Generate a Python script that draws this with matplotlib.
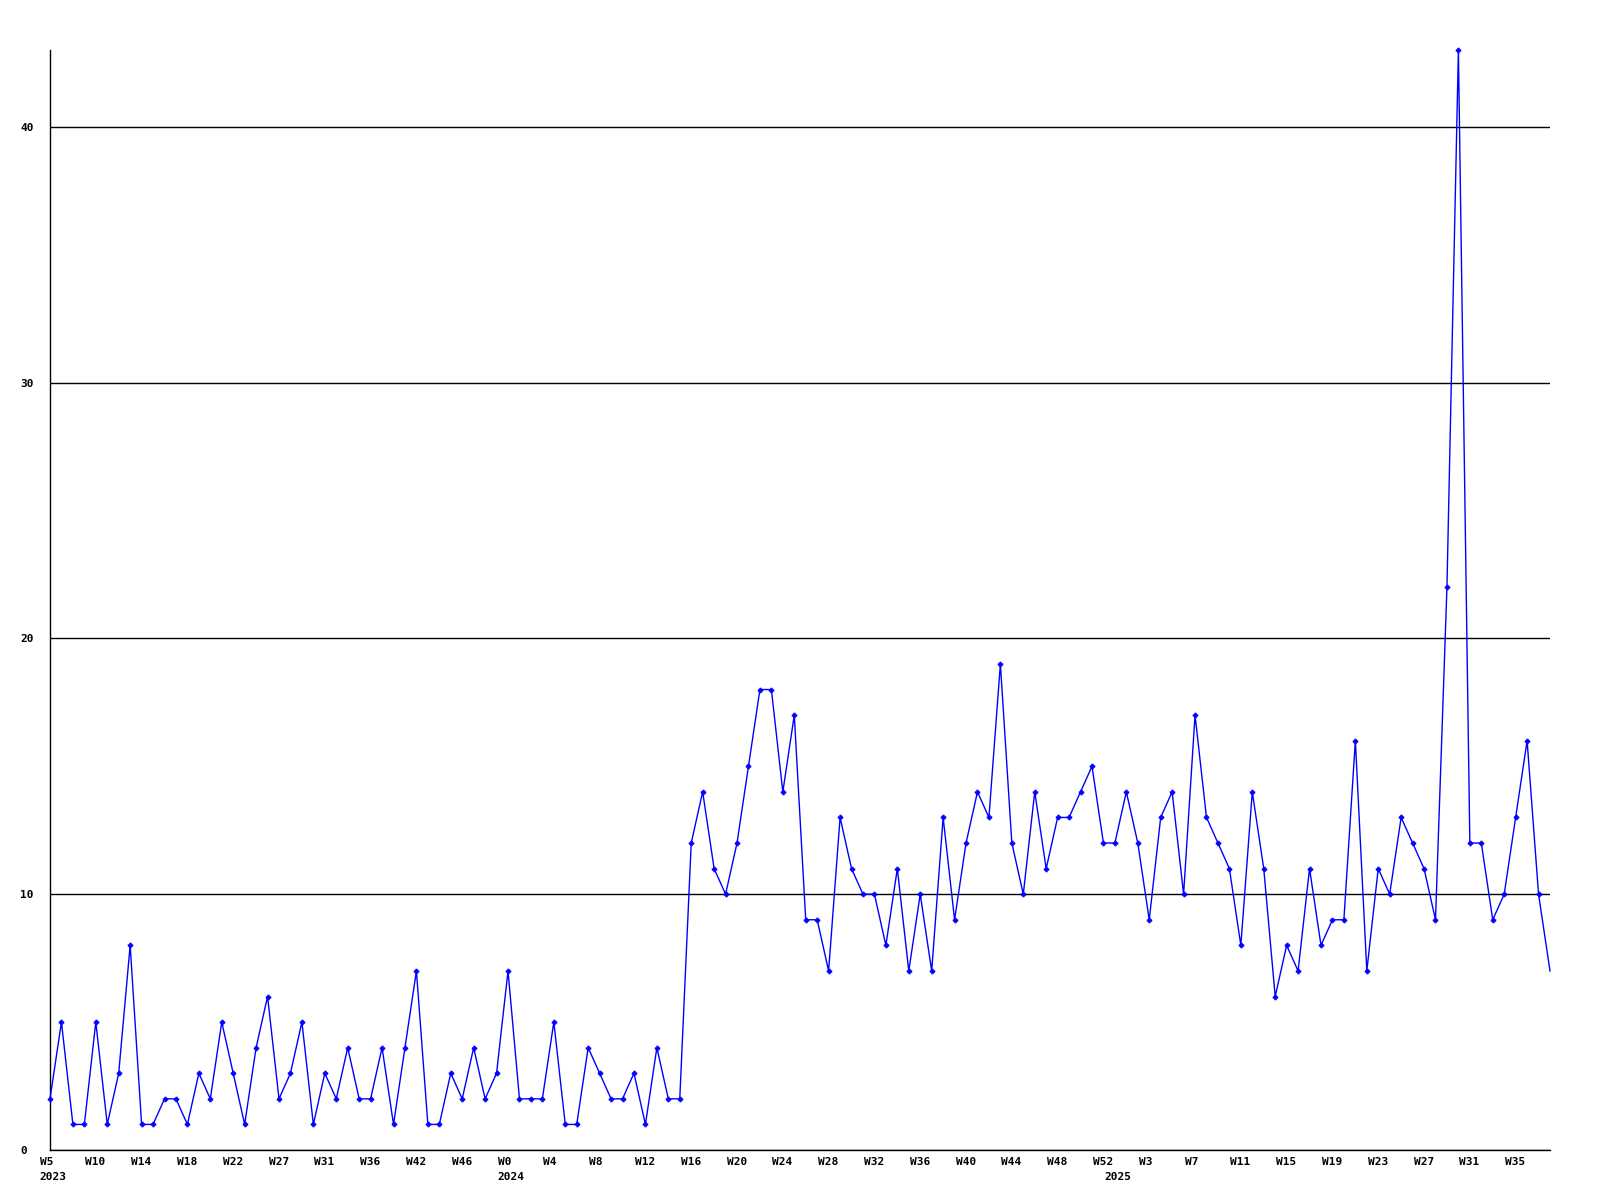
import matplotlib
matplotlib.use("Agg")
import matplotlib.pyplot as plt
from matplotlib.transforms import ScaledTranslation, blended_transform_factory

values = [2, 5, 1, 1, 5, 1, 3, 8, 1, 1, 2, 2, 1, 3, 2, 5, 3, 1, 4, 6,
          2, 3, 5, 1, 3, 2, 4, 2, 2, 4, 1, 4, 7, 1, 1, 3, 2, 4, 2, 3,
          7, 2, 2, 2, 5, 1, 1, 4, 3, 2, 2, 3, 1, 4, 2, 2, 12, 14, 11, 10,
          12, 15, 18, 18, 14, 17, 9, 9, 7, 13, 11, 10, 10, 8, 11, 7, 10, 7, 13, 9,
          12, 14, 13, 19, 12, 10, 14, 11, 13, 13, 14, 15, 12, 12, 14, 12, 9, 13, 14, 10,
          17, 13, 12, 11, 8, 14, 11, 6, 8, 7, 11, 8, 9, 9, 16, 7, 11, 10, 13, 12,
          11, 9, 22, 43, 12, 12, 9, 10, 13, 16, 10, 7]

week_labels = ["W5", "W10", "W14", "W18", "W22", "W27", "W31", "W36", "W42", "W46",
               "W0", "W4", "W8", "W12", "W16", "W20", "W24", "W28", "W32", "W36",
               "W40", "W44", "W48", "W52", "W3", "W7", "W11", "W15", "W19", "W23",
               "W27", "W31", "W35"]
year_labels = ["2023", "2024", "2025"]
year_positions = [0, 40, 93]
y_ticks = [0, 10, 20, 30, 40]

W, H = 1600, 1200
fig = plt.figure(figsize=(16, 12), dpi=100)
ax = fig.add_axes([50 / W, 50 / H, 1500 / W, 1100 / H])

x = list(range(len(values)))
ax.plot(x, values, color="#0000ff", lw=1.0, marker="P", markersize=3.5,
        markeredgewidth=0.5,
        markevery=list(range(len(values) - 1)), clip_on=False, zorder=3)

ax.set_xlim(0, len(values) - 1)
ax.set_ylim(0, 43)

for s in ["top", "right"]:
    ax.spines[s].set_visible(False)
for s in ["left", "bottom"]:
    ax.spines[s].set_color("black")
    ax.spines[s].set_linewidth(1.0)

font = dict(family="DejaVu Sans Mono", weight="bold", size=8)

ax.set_yticks(y_ticks)
ax.set_yticklabels([str(v) for v in y_ticks], **font)
ax.tick_params(axis="y", length=0, pad=0)
for lab in ax.get_yticklabels():
    lab.set_ha("left")
    lab.set_transform(lab.get_transform() + ScaledTranslation(-30 / 100, 0, fig.dpi_scale_trans))
ax.yaxis.grid(True, color="black", lw=1.0)
ax.set_axisbelow(True)

ax.set_xticks(list(range(0, 4 * len(week_labels), 4)))
ax.set_xticklabels(week_labels, **font)
ax.tick_params(axis="x", length=0, pad=5)
for lab in ax.get_xticklabels():
    lab.set_ha("left")
    lab.set_transform(lab.get_transform() + ScaledTranslation(-10.5 / 100, 0, fig.dpi_scale_trans))

trans = blended_transform_factory(ax.transData, ax.transAxes)
for pos, lab in zip(year_positions, year_labels):
    ax.text(pos, 0, lab, ha="left", va="top",
            transform=trans + ScaledTranslation(-10.5 / 100, -22 / 100, fig.dpi_scale_trans),
            **font)

fig.savefig("out.png", dpi=100, facecolor="white")
